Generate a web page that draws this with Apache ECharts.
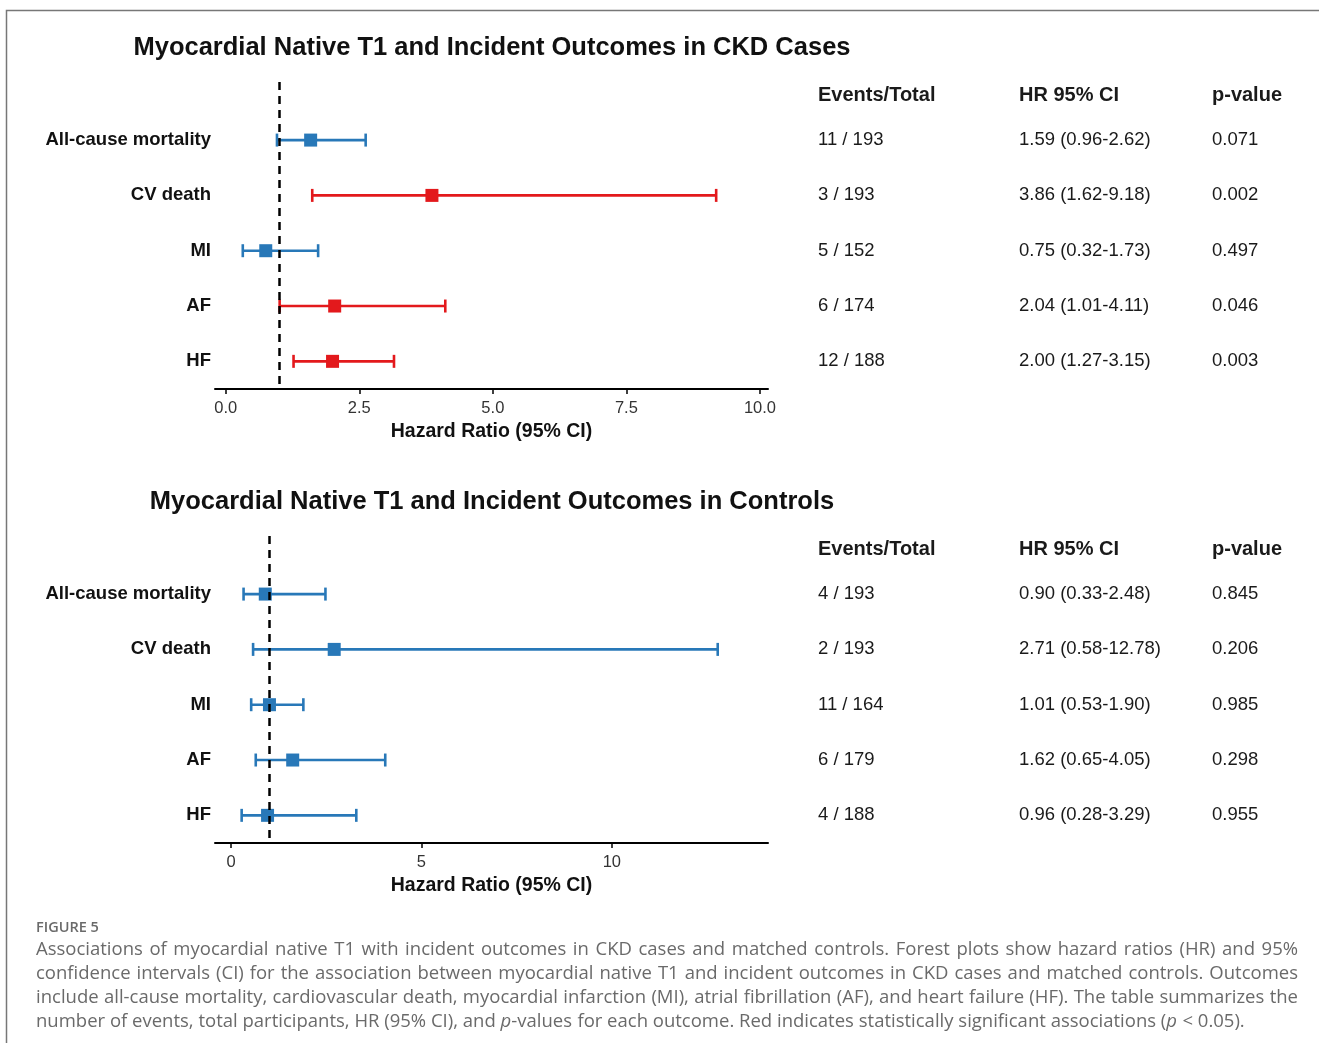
<!DOCTYPE html>
<html>
<head>
<meta charset="utf-8">
<script src="https://cdn.jsdelivr.net/npm/echarts@6/dist/echarts.min.js"></script>
<style>
  html, body { margin: 0; padding: 0; background: #fff; }
  #chart { width: 1319px; height: 1043px; }
</style>
</head>
<body>
<div id="chart"></div>
<script>
// 结局名称 / 表头
const outcomes = ['All-cause mortality', 'CV death', 'MI', 'AF', 'HF'];
const tableHeaders = ['Events/Total', 'HR 95% CI', 'p-value'];

// CKD 病例
const ckdEvents = ['11 / 193', '3 / 193', '5 / 152', '6 / 174', '12 / 188'];
const ckdHR = [1.59, 3.86, 0.75, 2.04, 2.00];
const ckdLower = [0.96, 1.62, 0.32, 1.01, 1.27];
const ckdUpper = [2.62, 9.18, 1.73, 4.11, 3.15];
const ckdP = ['0.071', '0.002', '0.497', '0.046', '0.003'];

// 对照组
const ctlEvents = ['4 / 193', '2 / 193', '11 / 164', '6 / 179', '4 / 188'];
const ctlHR = [0.90, 2.71, 1.01, 1.62, 0.96];
const ctlLower = [0.33, 0.58, 0.53, 0.65, 0.28];
const ctlUpper = [2.48, 12.78, 1.90, 4.05, 3.29];
const ctlP = ['0.845', '0.206', '0.985', '0.298', '0.955'];

// 坐标轴刻度
const ckdTicks = [0, 2.5, 5, 7.5, 10];
const ctlTicks = [0, 5, 10];
const refHR = 1;

const captionLines = [
    'Associations of myocardial native T1 with incident outcomes in CKD cases and matched controls. Forest plots show hazard ratios (HR) and 95%',
    'confidence intervals (CI) for the association between myocardial native T1 and incident outcomes in CKD cases and matched controls. Outcomes',
    'include all-cause mortality, cardiovascular death, myocardial infarction (MI), atrial fibrillation (AF), and heart failure (HF). The table summarizes the',
    'number of events, total participants, HR (95% CI), and *p*-values for each outcome. Red indicates statistically significant associations (*p* < 0.05).'
];

const BLUE = '#2878b8';
const RED = '#e3191c';
const FONT = '"Liberation Sans", Arial, sans-serif';
const rows = [1, 2, 3, 4, 5];
const headerRow = 0.2;
const colPos = [0, 201, 394];

function forestData(hr, lo, hi, p) {
    return hr.map((v, i) => [i + 1, lo[i], hi[i], v, parseFloat(p[i])]);
}

function tableData(events, hr, lo, hi, p) {
    const cells = tableHeaders.map((h, c) => [colPos[c], headerRow, h, 1]);
    events.forEach((e, i) => {
        const hrText = hr[i].toFixed(2) + ' (' + lo[i].toFixed(2) + '-' + hi[i].toFixed(2) + ')';
        [e, hrText, p[i]].forEach((t, c) => cells.push([colPos[c], i + 1, t, 0]));
    });
    return cells;
}

function renderForest(params, api) {
    const row = api.value(0);
    const lo = api.coord([api.value(1), row]);
    const hi = api.coord([api.value(2), row]);
    const mid = api.coord([api.value(3), row]);
    const color = api.value(4) < 0.05 ? RED : BLUE;
    const cap = 6.5;
    const box = 13;
    const ls = { stroke: color, lineWidth: 2.6 };
    return {
        type: 'group',
        children: [
            { type: 'line', shape: { x1: lo[0], y1: lo[1], x2: hi[0], y2: hi[1] }, style: ls },
            { type: 'line', shape: { x1: lo[0], y1: lo[1] - cap, x2: lo[0], y2: lo[1] + cap }, style: ls },
            { type: 'line', shape: { x1: hi[0], y1: hi[1] - cap, x2: hi[0], y2: hi[1] + cap }, style: ls },
            { type: 'rect', shape: { x: mid[0] - box / 2, y: mid[1] - box / 2, width: box, height: box }, style: { fill: color } }
        ]
    };
}

function renderCell(params, api) {
    const pt = api.coord([api.value(0), api.value(1)]);
    const header = api.value(3) === 1;
    return {
        type: 'text',
        x: pt[0],
        y: pt[1],
        style: {
            text: api.value(2),
            fill: '#1a1a1a',
            font: (header ? 'bold 20px ' : '18.5px ') + FONT,
            align: 'left',
            verticalAlign: 'middle'
        }
    };
}

function xAxisFor(gridIndex, min, max, ticks, digits) {
    return {
        type: 'value',
        gridIndex: gridIndex,
        min: min,
        max: max,
        name: 'Hazard Ratio (95% CI)',
        nameLocation: 'middle',
        nameGap: 33,
        nameTextStyle: { fontFamily: FONT, fontWeight: 'bold', fontSize: 19.5, color: '#111' },
        axisLine: { onZero: false, lineStyle: { color: '#000', width: 2 } },
        axisTick: { customValues: ticks, length: 5, lineStyle: { color: '#000', width: 1.5 } },
        axisLabel: {
            customValues: ticks,
            formatter: v => v.toFixed(digits),
            color: '#333',
            fontFamily: FONT,
            fontSize: 16.5,
            margin: 11
        },
        splitLine: { show: false }
    };
}

function yAxisFor(gridIndex, showLabels) {
    return {
        type: 'value',
        gridIndex: gridIndex,
        inverse: true,
        min: -0.05,
        max: 5.5,
        show: showLabels,
        axisLine: { show: false, onZero: false },
        axisTick: { show: false },
        splitLine: { show: false },
        axisLabel: {
            customValues: rows,
            formatter: v => outcomes[v - 1],
            color: '#111',
            fontFamily: FONT,
            fontWeight: 'bold',
            fontSize: 18.5,
            margin: 4
        }
    };
}

function tableXAxis(gridIndex) {
    return { type: 'value', gridIndex: gridIndex, min: 0, max: 480, show: false };
}

function refLine(idx) {
    return {
        type: 'line',
        xAxisIndex: idx,
        yAxisIndex: idx,
        data: [],
        z: 10,
        markLine: {
            silent: true,
            symbol: 'none',
            label: { show: false },
            lineStyle: { color: '#000', type: [8, 6], width: 2.5 },
            data: [{ xAxis: refHR }]
        }
    };
}

// 图注两端对齐
const measureCtx = document.createElement('canvas').getContext('2d');
function captionGraphics() {
    const capFont = '18.5px "Open Sans"';
    measureCtx.font = capFont;
    const left = 36, right = 1298, top = 950, lead = 24;
    const els = [];
    captionLines.forEach((line, li) => {
        const words = line.split(' ');
        const widths = words.map(w => measureCtx.measureText(w.replace(/\*/g, '')).width);
        const total = widths.reduce((a, b) => a + b, 0);
        const last = li === captionLines.length - 1;
        const gap = last ? measureCtx.measureText(' ').width : (right - left - total) / (words.length - 1);
        let x = left;
        words.forEach((w, i) => {
            els.push({
                type: 'text',
                x: x,
                y: top + li * lead,
                silent: true,
                style: {
                    text: w.replace(/\*(.+?)\*/g, '{i|$1}'),
                    font: capFont,
                    fill: '#6a6a6a',
                    verticalAlign: 'middle',
                    rich: { i: { fontStyle: 'italic', fontFamily: 'Open Sans', fontSize: 18.5, color: '#6a6a6a' } }
                }
            });
            x += widths[i] + gap;
        });
    });
    return els;
}

const chart = echarts.init(document.getElementById('chart'));
const option = {
    backgroundColor: '#fff',
    animation: false,
    title: [
        {
            text: 'Myocardial Native T1 and Incident Outcomes in CKD Cases',
            left: 492, top: 35, padding: 0, textAlign: 'center',
            textStyle: { fontFamily: FONT, fontWeight: 'bold', fontSize: 25.5, color: '#111' }
        },
        {
            text: 'Myocardial Native T1 and Incident Outcomes in Controls',
            left: 492, top: 489, padding: 0, textAlign: 'center',
            textStyle: { fontFamily: FONT, fontWeight: 'bold', fontSize: 25.5, color: '#111' }
        }
    ],
    grid: [
        { left: 215, top: 82, width: 553, height: 307 },
        { left: 818, top: 82, width: 480, height: 307 },
        { left: 215, top: 536, width: 553, height: 307 },
        { left: 818, top: 536, width: 480, height: 307 }
    ],
    xAxis: [
        xAxisFor(0, -0.2, 10.15, ckdTicks, 1),
        tableXAxis(1),
        xAxisFor(2, -0.42, 14.1, ctlTicks, 0),
        tableXAxis(3)
    ],
    yAxis: [yAxisFor(0, true), yAxisFor(1, false), yAxisFor(2, true), yAxisFor(3, false)],
    series: [
        { type: 'custom', xAxisIndex: 0, yAxisIndex: 0, renderItem: renderForest, data: forestData(ckdHR, ckdLower, ckdUpper, ckdP) },
        refLine(0),
        { type: 'custom', xAxisIndex: 1, yAxisIndex: 1, renderItem: renderCell, data: tableData(ckdEvents, ckdHR, ckdLower, ckdUpper, ckdP) },
        { type: 'custom', xAxisIndex: 2, yAxisIndex: 2, renderItem: renderForest, data: forestData(ctlHR, ctlLower, ctlUpper, ctlP) },
        refLine(2),
        { type: 'custom', xAxisIndex: 3, yAxisIndex: 3, renderItem: renderCell, data: tableData(ctlEvents, ctlHR, ctlLower, ctlUpper, ctlP) }
    ],
    graphic: [
        {
            type: 'polyline',
            silent: true,
            shape: { points: [[6.5, 1043], [6.5, 10.5], [1319, 10.5]] },
            style: { stroke: '#777', lineWidth: 1.5, fill: null }
        },
        {
            type: 'text', left: 36, top: 920, silent: true,
            style: { text: 'FIGURE 5', font: '600 14.5px "Open Sans"', fill: '#6a6a6a' }
        }
    ].concat(captionGraphics())
};
chart.setOption(option);
</script>
</body>
</html>
